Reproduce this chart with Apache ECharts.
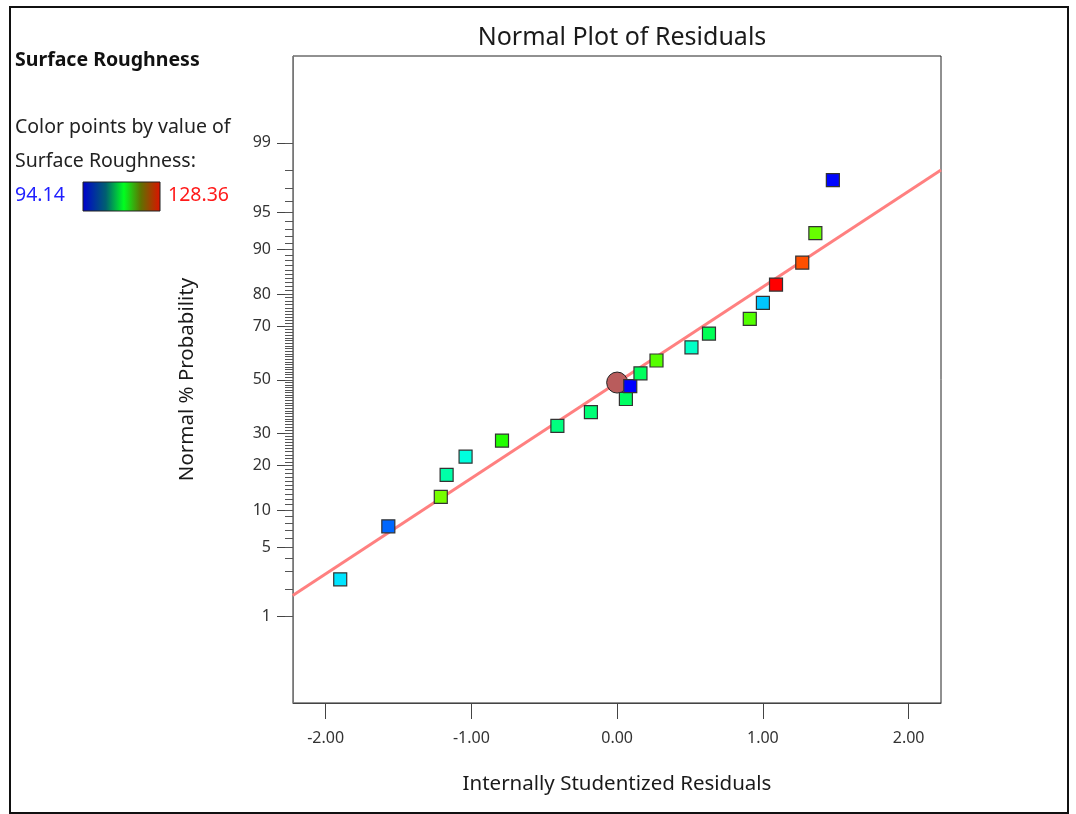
<!DOCTYPE html>
<html>
<head>
<meta charset="utf-8">
<script src="https://cdn.jsdelivr.net/npm/echarts@6/dist/echarts.min.js"></script>
<style>html,body{margin:0;padding:0;background:#fff}#c{width:1076px;height:814px}</style>
</head>
<body>
<div id="c"></div>
<script>
// Internally studentized residuals (x) and normal % probability (y)
const residuals = [-1.90, -1.57, -1.21, -1.17, -1.04, -0.79, -0.41, -0.18, 0.06, 0.09, 0.16, 0.27, 0.51, 0.63, 0.91, 1.00, 1.09, 1.27, 1.36, 1.48];
const probabilities = [2.5, 7.5, 12.5, 17.5, 22.5, 27.5, 32.5, 37.5, 42.5, 47.5, 52.5, 57.5, 62.5, 67.5, 72.5, 77.5, 82.5, 87.5, 92.5, 97.5];
// Surface roughness values used to colour the points
const roughness = [101.8, 97.6, 115.2, 105.6, 103.8, 112.4, 107.0, 107.3, 108.0, 94.14, 108.1, 114.1, 104.6, 108.4, 114.0, 100.8, 128.36, 125.7, 114.7, 94.3];
const roughMin = 94.14, roughMax = 128.36;
// Reference line end points (residual, % probability)
const lineX = [-2.226, 2.222];
const lineP = [1.70, 98.03];
// Highlighted point
const centerX = [0.0];
const centerP = [48.9];
// Axis ticks
const yMajorTicks = [1, 5, 10, 20, 30, 50, 70, 80, 90, 95, 99];
const yMinorTicks = Array.from({length: 99}, (_, i) => i + 1);
const xTicks = [-2, -1, 0, 1, 2];

function probit(p) {
  const a=[-3.969683028665376e+01,2.209460984245205e+02,-2.759285104469687e+02,1.383577518672690e+02,-3.066479806614716e+01,2.506628277459239e+00];
  const b=[-5.447609879822406e+01,1.615858368580409e+02,-1.556989798598866e+02,6.680131188771972e+01,-1.328068155288572e+01];
  const c=[-7.784894002430293e-03,-3.223964580411365e-01,-2.400758277161838e+00,-2.549732539343734e+00,4.374664141464968e+00,2.938163982698783e+00];
  const d=[7.784695709041462e-03,3.224671290700398e-01,2.445134137142996e+00,3.754408661907416e+00];
  const pl = 0.02425, ph = 1 - pl;
  if (p < pl) { const q = Math.sqrt(-2*Math.log(p)); return (((((c[0]*q+c[1])*q+c[2])*q+c[3])*q+c[4])*q+c[5])/((((d[0]*q+d[1])*q+d[2])*q+d[3])*q+1); }
  if (p <= ph) { const q = p - 0.5, r = q*q; return (((((a[0]*r+a[1])*r+a[2])*r+a[3])*r+a[4])*r+a[5])*q/(((((b[0]*r+b[1])*r+b[2])*r+b[3])*r+b[4])*r+1); }
  const q = Math.sqrt(-2*Math.log(1-p)); return -(((((c[0]*q+c[1])*q+c[2])*q+c[3])*q+c[4])*q+c[5])/((((d[0]*q+d[1])*q+d[2])*q+d[3])*q+1);
}
const z = pct => probit(pct / 100);
const majorZ = yMajorTicks.map(z);
const minorZ = yMinorTicks.map(z);

const FONT = 'Noto Sans';
const chart = echarts.init(document.getElementById('c'), null, {renderer: 'canvas'});
const yRange = [-3.175, 3.18];

chart.setOption({
  animation: false,
  backgroundColor: '#fff',
  textStyle: {fontFamily: FONT},
  title: {
    text: 'Normal Plot of Residuals',
    left: 617, top: 20, textAlign: 'center',
    textStyle: {fontFamily: FONT, fontSize: 25, fontWeight: 'normal', color: '#1a1a1a'}
  },
  grid: {left: 293, top: 56, width: 648, height: 647, show: true, borderColor: '#222', borderWidth: 1, backgroundColor: 'transparent'},
  xAxis: {
    type: 'value', min: -2.224, max: 2.222,
    name: 'Internally Studentized Residuals', nameLocation: 'middle', nameGap: 71,
    nameTextStyle: {fontFamily: FONT, fontSize: 20.5, color: '#1a1a1a'},
    axisLine: {show: true, onZero: false, lineStyle: {color: '#444', width: 1}},
    axisTick: {show: true, inside: false, length: 16, customValues: xTicks, lineStyle: {color: '#444'}},
    axisLabel: {show: true, margin: 27, customValues: xTicks, formatter: v => v.toFixed(2), fontFamily: FONT, fontSize: 16, color: '#333'},
    splitLine: {show: false}
  },
  yAxis: [{
    type: 'value', min: yRange[0], max: yRange[1], position: 'left',
    name: 'Normal % Probability', nameLocation: 'middle', nameGap: 95, nameRotate: 90,
    nameTextStyle: {fontFamily: FONT, fontSize: 20.5, color: '#1a1a1a'},
    axisLine: {show: true, onZero: false, lineStyle: {color: '#777', width: 1}},
    axisTick: {show: true, inside: false, length: 16, customValues: majorZ, lineStyle: {color: '#444'}},
    axisLabel: {show: true, margin: 22, customValues: majorZ, fontFamily: FONT, fontSize: 16, color: '#333',
      formatter: v => { let bi = 0; majorZ.forEach((m, i) => { if (Math.abs(m - v) < Math.abs(majorZ[bi] - v)) bi = i; }); return String(yMajorTicks[bi]); }},
    splitLine: {show: false}
  }, {
    type: 'value', min: yRange[0], max: yRange[1], position: 'left', offset: 0,
    axisLine: {show: false, onZero: false},
    axisTick: {show: true, inside: false, length: 8, customValues: minorZ, lineStyle: {color: '#555'}},
    axisLabel: {show: false},
    splitLine: {show: false}
  }],
  visualMap: {
    show: false, type: 'continuous', seriesIndex: 2, dimension: 2,
    min: roughMin, max: roughMax,
    inRange: {color: ['#0000ff', '#00ffff', '#00ff00', '#ffff00', '#ff0000']}
  },
  series: [{
    type: 'line', xAxisIndex: 0, yAxisIndex: 0, symbol: 'none', silent: true,
    data: lineX.map((x, i) => [x, z(lineP[i])]),
    lineStyle: {color: '#ff8080', width: 3}, z: 2
  }, {
    type: 'scatter', yAxisIndex: 0, symbol: 'circle', symbolSize: 21,
    data: centerX.map((x, i) => [x, z(centerP[i])]),
    itemStyle: {color: '#b95c5c', borderColor: '#222', borderWidth: 1, opacity: 1}, z: 3
  }, {
    type: 'scatter', yAxisIndex: 0, symbol: 'rect', symbolSize: 13,
    data: residuals.map((x, i) => [x, z(probabilities[i]), roughness[i]]),
    itemStyle: {borderColor: '#333', borderWidth: 1.2, opacity: 1}, z: 4
  }],
  graphic: [
    {type: 'rect', shape: {x: 10, y: 7, width: 1058, height: 806}, style: {fill: 'none', stroke: '#111', lineWidth: 2}, silent: true},
    {type: 'text', left: 15, top: 50, style: {text: 'Surface Roughness', fontFamily: FONT, fontSize: 19.5, fontWeight: 'bold', fill: '#111'}},
    {type: 'text', left: 15, top: 117, style: {text: 'Color points by value of', fontFamily: FONT, fontSize: 19.5, fill: '#222'}},
    {type: 'text', left: 15, top: 151, style: {text: 'Surface Roughness:', fontFamily: FONT, fontSize: 19.5, fill: '#222'}},
    {type: 'text', left: 15, top: 185, style: {text: '94.14', fontFamily: FONT, fontSize: 19.5, fill: '#1f1fff'}},
    {type: 'text', left: 168, top: 185, style: {text: '128.36', fontFamily: FONT, fontSize: 19.5, fill: '#ff1a1a'}},
    {type: 'rect', shape: {x: 83, y: 182, width: 77, height: 29}, style: {
      fill: new echarts.graphic.LinearGradient(0, 0, 1, 0, [
        {offset: 0, color: '#0000d0'}, {offset: 0.3, color: '#006070'}, {offset: 0.53, color: '#00ff20'},
        {offset: 0.75, color: '#607000'}, {offset: 1, color: '#e01000'}]),
      stroke: '#222', lineWidth: 1}}
  ]
});
</script>
</body>
</html>
